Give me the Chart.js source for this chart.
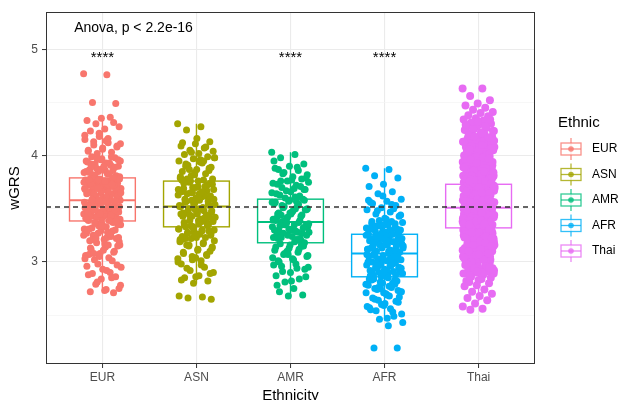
<!DOCTYPE html>
<html>
<head>
<meta charset="utf-8">
<script src="https://cdn.jsdelivr.net/npm/chart.js@4.4.1/dist/chart.umd.min.js"></script>
<style>
    html, body { margin: 0; padding: 0; background: #fff; }
</style>
</head>
<body>
<canvas id="grafico" width="620" height="400"></canvas>
<script>
const categories = ['EUR', 'ASN', 'AMR', 'AFR', 'Thai'];
const colors = ['#F8766D', '#A3A500', '#00BF7D', '#00B0F6', '#E76BF3'];

const valuesEUR = [
    4.77, 4.76, 4.50, 4.49,
    4.35, 4.33, 4.36, 4.30, 4.27, 4.25, 4.23, 4.31,
    4.18, 4.15, 4.12, 4.10, 4.09, 4.07, 4.05, 4.03, 4.02, 4.11, 4.14,
    3.99, 3.98, 3.96, 3.95, 3.93, 3.92, 3.90, 3.89, 3.87, 3.86, 3.85, 3.84, 3.83, 3.82, 3.81, 3.97, 3.94, 3.91, 3.88, 3.80, 3.86, 3.92,
    3.79, 3.78, 3.77, 3.76, 3.75, 3.74, 3.73, 3.72, 3.71, 3.70, 3.69, 3.68, 3.67, 3.66, 3.65, 3.64, 3.63, 3.62, 3.61, 3.60, 3.78, 3.75, 3.72, 3.69, 3.66, 3.63, 3.60, 3.71, 3.65, 3.74,
    3.59, 3.58, 3.57, 3.56, 3.55, 3.54, 3.53, 3.52, 3.51, 3.50, 3.49, 3.48, 3.47, 3.46, 3.45, 3.44, 3.43, 3.42, 3.41, 3.40, 3.58, 3.55, 3.52, 3.49, 3.46, 3.43, 3.57, 3.51, 3.45, 3.54, 3.48, 3.42,
    3.39, 3.38, 3.36, 3.35, 3.33, 3.32, 3.30, 3.29, 3.27, 3.26, 3.24, 3.23, 3.21, 3.20, 3.37, 3.34, 3.31, 3.28, 3.25, 3.22, 3.36, 3.30, 3.24,
    3.18, 3.16, 3.14, 3.12, 3.10, 3.08, 3.06, 3.04, 3.02, 3.15, 3.11, 3.07, 3.01,
    2.98, 2.95, 2.92, 2.89, 2.86, 2.84, 2.96, 2.90,
    2.79, 2.75, 2.73, 2.72, 2.71,
    4.21, 4.19, 4.16, 4.13, 4.08, 4.06, 4.04,
    3.99, 3.97, 3.95, 3.93, 3.91, 3.89, 3.87, 3.85, 3.83, 3.81, 3.96, 3.90, 3.84,
    3.79, 3.77, 3.75, 3.73, 3.71, 3.69, 3.67, 3.65, 3.63, 3.61, 3.78, 3.76, 3.74, 3.72, 3.70, 3.68, 3.66, 3.64, 3.62, 3.60, 3.77, 3.73, 3.69, 3.65, 3.61,
    3.59, 3.57, 3.55, 3.53, 3.51, 3.49, 3.47, 3.45, 3.43, 3.41, 3.58, 3.56, 3.54, 3.52, 3.50, 3.48, 3.46, 3.44, 3.42, 3.40, 3.57, 3.53, 3.49, 3.45, 3.41,
    3.39, 3.37, 3.35, 3.33, 3.31, 3.29, 3.27, 3.25, 3.23, 3.21, 3.38, 3.34, 3.30, 3.26, 3.22,
    3.19, 3.17, 3.13, 3.09, 3.05, 3.03, 3.16, 3.08,
    2.97, 2.93, 2.88, 2.85, 2.81, 2.78, 2.74
];
const valuesASN = [
    4.30, 4.27, 4.24,
    4.13, 4.11, 4.09, 4.07, 4.05, 4.04, 4.02, 4.01,
    3.99, 3.97, 3.95, 3.93, 3.91, 3.89, 3.87, 3.85, 3.83, 3.81, 3.98, 3.94, 3.90, 3.86, 3.82,
    3.79, 3.77, 3.75, 3.73, 3.71, 3.69, 3.67, 3.65, 3.63, 3.61, 3.78, 3.74, 3.70, 3.66, 3.62, 3.76, 3.68, 3.64,
    3.59, 3.57, 3.55, 3.53, 3.51, 3.49, 3.47, 3.45, 3.43, 3.41, 3.58, 3.54, 3.50, 3.46, 3.42, 3.56, 3.52, 3.48, 3.44, 3.40,
    3.39, 3.37, 3.35, 3.33, 3.31, 3.29, 3.27, 3.25, 3.23, 3.21, 3.38, 3.34, 3.30, 3.26, 3.22, 3.36, 3.28,
    3.19, 3.17, 3.15, 3.13, 3.11, 3.09, 3.07, 3.05, 3.03, 3.01, 3.16, 3.10, 3.04,
    2.98, 2.95, 2.92, 2.90, 2.87, 2.85, 2.82, 2.80,
    2.68, 2.67, 2.66, 2.65,
    4.16, 4.12, 4.08, 4.03,
    3.98, 3.96, 3.92, 3.88, 3.84, 3.80, 3.95, 3.87,
    3.78, 3.76, 3.74, 3.72, 3.70, 3.68, 3.66, 3.64, 3.62, 3.60, 3.77, 3.71, 3.65,
    3.59, 3.58, 3.56, 3.55, 3.54, 3.52, 3.51, 3.50, 3.48, 3.47, 3.46, 3.44, 3.43, 3.42, 3.40, 3.57, 3.53, 3.49, 3.45, 3.41,
    3.39, 3.38, 3.36, 3.35, 3.34, 3.32, 3.31, 3.30, 3.28, 3.27, 3.26, 3.24, 3.23, 3.22, 3.20, 3.37, 3.33, 3.29, 3.25, 3.21,
    3.18, 3.16, 3.14, 3.12, 3.08, 3.06, 3.02, 3.00,
    2.97, 2.94, 2.89, 2.86, 2.83
];
const valuesAMR = [
    4.03, 4.01, 3.98,
    3.92, 3.90, 3.88, 3.86, 3.84, 3.82, 3.80, 3.87,
    3.78, 3.76, 3.74, 3.72, 3.70, 3.68, 3.66, 3.64, 3.62, 3.60, 3.75, 3.69, 3.63,
    3.59, 3.57, 3.55, 3.53, 3.51, 3.49, 3.47, 3.45, 3.43, 3.41, 3.56, 3.50, 3.44, 3.58, 3.46,
    3.39, 3.37, 3.35, 3.33, 3.31, 3.29, 3.27, 3.25, 3.23, 3.21, 3.38, 3.34, 3.30, 3.26, 3.22, 3.36, 3.28,
    3.19, 3.17, 3.15, 3.13, 3.11, 3.09, 3.07, 3.05, 3.03, 3.01, 3.16, 3.10, 3.04,
    2.98, 2.96, 2.93, 2.90, 2.87, 2.84, 2.81, 2.95,
    2.75, 2.72, 2.69, 2.68,
    3.95, 3.89, 3.83, 3.79,
    3.77, 3.73, 3.71, 3.67, 3.65, 3.61, 3.76, 3.68,
    3.58, 3.56, 3.54, 3.52, 3.50, 3.48, 3.46, 3.44, 3.42, 3.40, 3.57, 3.53, 3.49, 3.45, 3.41,
    3.39, 3.38, 3.36, 3.35, 3.34, 3.32, 3.31, 3.30, 3.28, 3.27, 3.25, 3.24, 3.22, 3.20, 3.37, 3.33, 3.29, 3.23,
    3.18, 3.16, 3.14, 3.12, 3.08, 3.06, 3.02, 3.00, 3.15, 3.07,
    2.97, 2.94, 2.91, 2.86, 2.82, 2.78
];
const valuesAFR = [
    3.88, 3.87, 3.81, 3.79, 3.73, 3.71, 3.66, 3.64,
    3.59, 3.57, 3.55, 3.53, 3.51, 3.49, 3.47, 3.45, 3.43, 3.41, 3.56, 3.50,
    3.39, 3.37, 3.35, 3.33, 3.31, 3.29, 3.27, 3.38, 3.34, 3.30, 3.28, 3.36, 3.32,
    3.26, 3.25, 3.24, 3.23, 3.22, 3.21, 3.20, 3.19, 3.18, 3.17, 3.16, 3.15, 3.14, 3.13, 3.12, 3.11, 3.10, 3.09, 3.25, 3.22, 3.19, 3.16, 3.13, 3.10,
    3.08, 3.07, 3.06, 3.05, 3.04, 3.03, 3.02, 3.01, 3.00, 2.99, 2.98, 2.97, 2.96, 2.95, 2.94, 2.93, 2.92, 2.91, 2.90, 2.89, 2.88, 2.87, 3.06, 3.03, 3.00, 2.97, 2.94, 2.91, 2.88,
    2.85, 2.83, 2.81, 2.79, 2.77, 2.75, 2.73, 2.71, 2.84, 2.80, 2.76, 2.72,
    2.69, 2.66, 2.63, 2.60, 2.58, 2.56, 2.54, 2.67, 2.61, 2.55,
    2.49, 2.46, 2.43, 2.40,
    2.19, 2.19,
    3.62, 3.58, 3.54, 3.48, 3.44, 3.40,
    3.38, 3.36, 3.34, 3.32, 3.30, 3.29, 3.27, 3.35, 3.31,
    3.26, 3.24, 3.22, 3.20, 3.18, 3.16, 3.14, 3.12, 3.10, 3.25, 3.21, 3.17, 3.13, 3.09, 3.23, 3.15,
    3.08, 3.06, 3.04, 3.02, 3.00, 2.98, 2.96, 2.94, 2.92, 2.90, 2.88, 2.86, 3.07, 3.03, 2.99, 2.95, 2.91, 2.87, 3.05, 2.97, 2.89,
    2.85, 2.84, 2.82, 2.80, 2.78, 2.76, 2.74, 2.72, 2.70, 2.83, 2.79, 2.75, 2.71,
    2.68, 2.65, 2.62, 2.59, 2.57, 2.53, 2.64,
    2.51, 2.47
];
const valuesThai = [
    4.63, 4.63, 4.56, 4.52, 4.49, 4.47, 4.45, 4.43, 4.41, 4.40, 4.38, 4.37,
    4.35, 4.34, 4.33, 4.31, 4.30, 4.29, 4.27, 4.26, 4.25, 4.23, 4.22, 4.21, 4.32, 4.28, 4.24, 4.20,
    4.19, 4.18, 4.17, 4.16, 4.15, 4.14, 4.13, 4.12, 4.11, 4.10, 4.09, 4.08, 4.07, 4.06, 4.05, 4.04, 4.03, 4.02, 4.01, 4.00, 4.18, 4.15, 4.12, 4.09, 4.06, 4.03, 4.16, 4.08, 4.13, 4.01,
    3.99, 3.98, 3.97, 3.96, 3.95, 3.94, 3.93, 3.92, 3.91, 3.90, 3.89, 3.88, 3.87, 3.86, 3.85, 3.84, 3.83, 3.82, 3.81, 3.80,
    3.99, 3.97, 3.95, 3.93, 3.91, 3.89, 3.87, 3.85, 3.83, 3.81, 3.98, 3.94, 3.90, 3.86, 3.82, 3.96, 3.88, 3.84, 3.92, 3.80,
    3.79, 3.78, 3.77, 3.76, 3.75, 3.74, 3.73, 3.72, 3.71, 3.70, 3.69, 3.68, 3.67, 3.66, 3.65, 3.64, 3.63, 3.62, 3.61, 3.60,
    3.79, 3.77, 3.75, 3.73, 3.71, 3.69, 3.67, 3.65, 3.63, 3.61, 3.78, 3.76, 3.74, 3.72, 3.70, 3.68, 3.66, 3.64, 3.62, 3.60,
    3.77, 3.73, 3.69, 3.65, 3.61, 3.75, 3.71, 3.67, 3.63, 3.79,
    3.59, 3.58, 3.57, 3.56, 3.55, 3.54, 3.53, 3.52, 3.51, 3.50, 3.49, 3.48, 3.47, 3.46, 3.45, 3.44, 3.43, 3.42, 3.41, 3.40,
    3.59, 3.57, 3.55, 3.53, 3.51, 3.49, 3.47, 3.45, 3.43, 3.41, 3.58, 3.56, 3.54, 3.52, 3.50, 3.48, 3.46, 3.44, 3.42, 3.40,
    3.57, 3.53, 3.49, 3.45, 3.41, 3.55, 3.51, 3.47, 3.43, 3.56, 3.50, 3.44, 3.58, 3.42, 3.48,
    3.39, 3.38, 3.37, 3.36, 3.35, 3.34, 3.33, 3.32, 3.31, 3.30, 3.29, 3.28, 3.27, 3.26, 3.25, 3.24, 3.23, 3.22, 3.21, 3.20,
    3.39, 3.37, 3.35, 3.33, 3.31, 3.29, 3.27, 3.25, 3.23, 3.21, 3.38, 3.36, 3.34, 3.32, 3.30, 3.28, 3.26, 3.24, 3.22, 3.20,
    3.37, 3.33, 3.29, 3.25, 3.21, 3.35, 3.31, 3.27, 3.23, 3.38,
    3.19, 3.18, 3.17, 3.16, 3.15, 3.14, 3.13, 3.12, 3.11, 3.10, 3.09, 3.08, 3.07, 3.06, 3.05, 3.04, 3.03, 3.02, 3.01, 3.00,
    3.19, 3.17, 3.15, 3.13, 3.11, 3.09, 3.07, 3.05, 3.03, 3.01, 3.18, 3.14, 3.10, 3.06, 3.02, 3.16, 3.08, 3.12,
    2.99, 2.98, 2.97, 2.96, 2.95, 2.94, 2.93, 2.92, 2.91, 2.90, 2.89, 2.88, 2.86, 2.85, 2.83, 2.82, 2.97, 2.93, 2.89, 2.84, 2.81, 2.80,
    2.78, 2.77, 2.74, 2.72, 2.70, 2.68, 2.66, 2.64, 2.61, 2.58, 2.56, 2.55,
    4.34, 4.32, 4.29, 4.27, 4.25, 4.23, 4.21, 4.19, 4.17, 4.15, 4.13, 4.11, 4.09, 4.07, 4.05, 4.03, 4.01, 4.18, 4.14, 4.10, 4.06, 4.02,
    3.99, 3.97, 3.95, 3.93, 3.91, 3.89, 3.87, 3.85, 3.83, 3.81, 3.98, 3.96, 3.94, 3.92, 3.90, 3.88, 3.86, 3.84, 3.82, 3.80, 3.97, 3.93, 3.89, 3.85, 3.81,
    3.79, 3.77, 3.75, 3.73, 3.71, 3.69, 3.67, 3.65, 3.63, 3.61, 3.78, 3.76, 3.74, 3.72, 3.70, 3.68, 3.66, 3.64, 3.62, 3.60, 3.78, 3.74, 3.70, 3.66, 3.62, 3.77, 3.71, 3.65, 3.76, 3.64,
    3.59, 3.57, 3.55, 3.53, 3.51, 3.49, 3.47, 3.45, 3.43, 3.41, 3.58, 3.56, 3.54, 3.52, 3.50, 3.48, 3.46, 3.44, 3.42, 3.40, 3.59, 3.55, 3.51, 3.47, 3.43, 3.57, 3.53, 3.49, 3.45, 3.41, 3.56, 3.46,
    3.39, 3.37, 3.35, 3.33, 3.31, 3.29, 3.27, 3.25, 3.23, 3.21, 3.38, 3.36, 3.34, 3.32, 3.30, 3.28, 3.26, 3.24, 3.22, 3.20, 3.39, 3.35, 3.31, 3.27, 3.23, 3.36, 3.28, 3.22,
    3.19, 3.17, 3.15, 3.13, 3.11, 3.09, 3.07, 3.05, 3.03, 3.01, 3.18, 3.16, 3.14, 3.12, 3.10, 3.08, 3.06, 3.04, 3.02, 3.00, 3.15, 3.07,
    2.98, 2.96, 2.94, 2.92, 2.90, 2.87, 2.95, 2.91
];

// box plot summaries per category
const boxLow = [2.75, 2.80, 2.68, 2.45, 2.63];
const boxQ1 = [3.385, 3.33, 3.18, 2.86, 3.32];
const boxMedian = [3.58, 3.52, 3.375, 3.08, 3.51];
const boxQ3 = [3.79, 3.76, 3.59, 3.26, 3.73];
const boxHigh = [4.36, 4.30, 4.03, 3.88, 4.35];

const overallMean = 3.516;
const signifLabels = ['****', '', '****', '****', ''];
const yTicks = [2.5, 3, 3.5, 4, 4.5, 5];
const testLabel = 'Anova, p < 2.2e-16';

const FONT = "'Liberation Sans', Arial, sans-serif";
Chart.defaults.font.family = FONT;

const groups = [valuesEUR, valuesASN, valuesAMR, valuesAFR, valuesThai];
const jitterHalf = [0.2, 0.2, 0.2, 0.2, 0.17];
const dotRadius = [3.5, 3.5, 3.5, 3.5, 4];

// spread points sideways around the category position (golden ratio sequence)
function jitter(values, pos, half) {
    return values.map((v, k) => ({ x: pos + (((k * 0.618034) % 1) - 0.5) * 2 * half, y: v }));
}

const isMajor = v => Number.isInteger(v);

const boxPlugin = {
    id: 'boxes',
    beforeDatasetsDraw(chart) {
        const { ctx, chartArea, scales: { x, y } } = chart;
        ctx.save();
        ctx.beginPath();
        ctx.rect(chartArea.left, chartArea.top, chartArea.width, chartArea.height);
        ctx.clip();
        categories.forEach((cat, i) => {
            const cx = x.getPixelForValue(i + 1);
            const left = x.getPixelForValue(i + 1 - 0.35);
            const right = x.getPixelForValue(i + 1 + 0.35);
            const yq1 = y.getPixelForValue(boxQ1[i]);
            const yq3 = y.getPixelForValue(boxQ3[i]);
            ctx.strokeStyle = colors[i];
            ctx.lineWidth = 1.4;
            ctx.beginPath();
            ctx.moveTo(cx, y.getPixelForValue(boxHigh[i]));
            ctx.lineTo(cx, yq3);
            ctx.moveTo(cx, yq1);
            ctx.lineTo(cx, y.getPixelForValue(boxLow[i]));
            ctx.stroke();
            ctx.fillStyle = '#fff';
            ctx.fillRect(left, yq3, right - left, yq1 - yq3);
            ctx.strokeRect(left, yq3, right - left, yq1 - yq3);
            ctx.lineWidth = 2;
            ctx.beginPath();
            const ym = y.getPixelForValue(boxMedian[i]);
            ctx.moveTo(left, ym);
            ctx.lineTo(right, ym);
            ctx.stroke();
        });
        ctx.restore();
    },
    afterDatasetsDraw(chart) {
        const { ctx, chartArea, scales: { x, y } } = chart;
        ctx.save();
        // reference line
        const yMean = y.getPixelForValue(overallMean);
        ctx.strokeStyle = '#333';
        ctx.lineWidth = 1.5;
        ctx.setLineDash([5, 4]);
        ctx.beginPath();
        ctx.moveTo(chartArea.left, yMean);
        ctx.lineTo(chartArea.right, yMean);
        ctx.stroke();
        ctx.setLineDash([]);

        // test label and significance stars
        ctx.fillStyle = '#000';
        ctx.font = '14px ' + FONT;
        ctx.textAlign = 'left';
        ctx.textBaseline = 'alphabetic';
        ctx.fillText(testLabel, x.getPixelForValue(0.7), 32);
        ctx.font = '15px ' + FONT;
        ctx.textAlign = 'center';
        signifLabels.forEach((s, i) => {
            if (s) ctx.fillText(s, x.getPixelForValue(i + 1), 62);
        });

        // panel border
        ctx.strokeStyle = '#333';
        ctx.lineWidth = 1;
        ctx.strokeRect(chartArea.left + 0.5, chartArea.top + 0.5, chartArea.width - 1, chartArea.height - 1);
        ctx.restore();
    },
    afterDraw(chart) {
        const { ctx } = chart;
        ctx.save();
        ctx.fillStyle = '#000';
        ctx.font = '15px ' + FONT;
        ctx.textAlign = 'left';
        ctx.textBaseline = 'alphabetic';
        ctx.fillText('Ethnic', 558, 127);
        categories.forEach((cat, i) => {
            const cy = 149 + i * 25.5;
            ctx.globalAlpha = 0.8;
            ctx.strokeStyle = colors[i];
            ctx.lineWidth = 1.3;
            ctx.beginPath();
            ctx.moveTo(571, cy - 11);
            ctx.lineTo(571, cy + 11);
            ctx.stroke();
            ctx.fillStyle = '#fff';
            ctx.fillRect(561, cy - 6, 20, 12);
            ctx.strokeRect(561, cy - 6, 20, 12);
            ctx.beginPath();
            ctx.moveTo(561, cy);
            ctx.lineTo(581, cy);
            ctx.stroke();
            ctx.fillStyle = colors[i];
            ctx.beginPath();
            ctx.arc(571, cy, 2.8, 0, Math.PI * 2);
            ctx.fill();
            ctx.globalAlpha = 1;
            ctx.fillStyle = '#000';
            ctx.font = '12px ' + FONT;
            ctx.textBaseline = 'middle';
            ctx.fillText(cat, 592, cy);
            ctx.textBaseline = 'alphabetic';
        });
        ctx.restore();
    }
};

document.addEventListener('DOMContentLoaded', function() {
    const datasets = groups.map((values, i) => ({
        label: categories[i],
        data: jitter(values, i + 1, jitterHalf[i]),
        backgroundColor: colors[i],
        borderWidth: 0,
        pointRadius: dotRadius[i],
        pointHoverRadius: dotRadius[i]
    }));

    new Chart(document.getElementById('grafico').getContext('2d'), {
        type: 'scatter',
        data: { datasets: datasets },
        options: {
            responsive: false,
            animation: false,
            devicePixelRatio: 1,
            layout: { padding: { left: 0, top: 12, right: 85, bottom: 0 } },
            plugins: {
                legend: { display: false },
                tooltip: { enabled: false }
            },
            scales: {
                x: {
                    type: 'linear',
                    min: 0.4,
                    max: 5.6,
                    afterBuildTicks: s => { s.ticks = categories.map((c, i) => ({ value: i + 1 })); },
                    afterFit: s => { s.height = 36; },
                    ticks: {
                        callback: v => categories[v - 1],
                        color: '#4D4D4D',
                        font: { size: 12 },
                        padding: 2,
                        maxRotation: 0
                    },
                    grid: {
                        color: '#EBEBEB',
                        lineWidth: 1.1,
                        tickLength: 4,
                        tickColor: '#333',
                        tickWidth: 1
                    },
                    border: { display: false },
                    title: {
                        display: true,
                        text: 'Ethnicity',
                        color: '#000',
                        font: { size: 15 },
                        padding: { top: 0, bottom: -5 }
                    }
                },
                y: {
                    type: 'linear',
                    min: 2.04,
                    max: 5.35,
                    afterBuildTicks: s => { s.ticks = yTicks.map(v => ({ value: v })); },
                    afterFit: s => { s.width = 46; },
                    ticks: {
                        callback: v => isMajor(v) ? String(v) : '',
                        color: '#4D4D4D',
                        font: { size: 12 },
                        padding: 4
                    },
                    grid: {
                        color: c => c.tick && isMajor(c.tick.value) ? '#EBEBEB' : '#F3F3F3',
                        lineWidth: c => c.tick && isMajor(c.tick.value) ? 1.1 : 0.7,
                        tickLength: 4,
                        tickColor: c => c.tick && isMajor(c.tick.value) ? '#333' : 'rgba(0,0,0,0)',
                        tickWidth: 1
                    },
                    border: { display: false },
                    title: {
                        display: true,
                        text: 'wGRS',
                        color: '#000',
                        font: { size: 15 },
                        padding: { top: 6, bottom: 0 }
                    }
                }
            }
        },
        plugins: [boxPlugin]
    });
});
</script>
</body>
</html>
